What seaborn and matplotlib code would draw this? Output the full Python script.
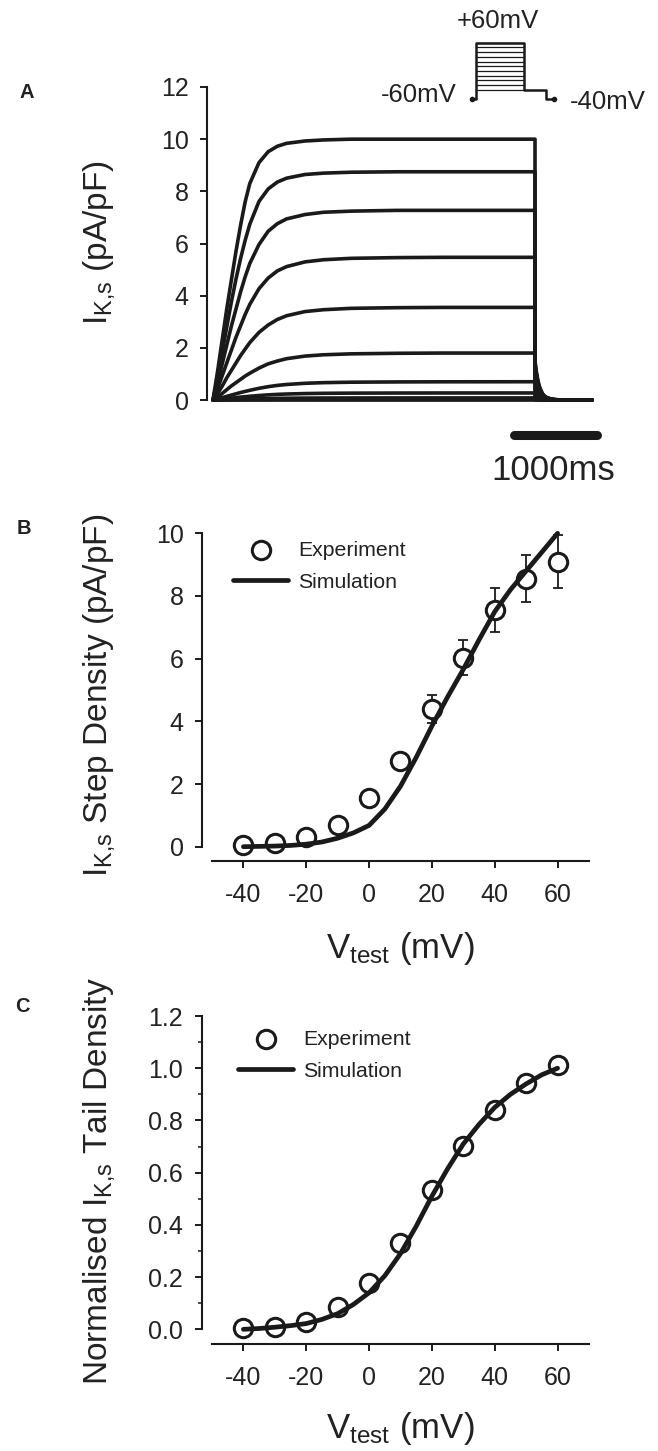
import numpy as np
import pandas as pd
import matplotlib
matplotlib.use("Agg")
import matplotlib.pyplot as plt
import seaborn as sns
from matplotlib.ticker import MultipleLocator, FormatStrFormatter

sns.set_theme(style="ticks")
plt.rcParams["font.family"] = ["Liberation Sans", "DejaVu Sans"]
plt.rcParams["mathtext.fontset"] = "custom"
plt.rcParams["mathtext.rm"] = "Liberation Sans"
plt.rcParams["mathtext.it"] = "Liberation Sans:italic"
plt.rcParams["axes.unicode_minus"] = False

# ---------------- data ----------------
test_voltage_mV = [-40, -30, -20, -10, 0, 10, 20, 30, 40, 50, 60]

# Panel A: steady-state step current levels (pA/pF) for each test voltage
step_level = [0.0, 0.02, 0.08, 0.27, 0.70, 1.80, 3.55, 5.47, 7.27, 8.75, 10.0]
# time samples of the activation phase (ms) and fraction of steady level reached
rise_time_ms = [0, 50, 100, 150, 200, 250, 300, 350, 400, 500, 600, 700, 800,
                1000, 1200, 1500, 2000, 2500, 3500]
rise_slow = [0, .06, .13, .20, .27, .34, .41, .47, .53, .64, .73, .80, .85,
             .915, .95, .975, .99, .997, 1]
rise_fraction = {
    -40: rise_slow, -30: rise_slow, -20: rise_slow, -10: rise_slow, 0: rise_slow,
    10: [0, .065, .14, .22, .30, .37, .44, .51, .57, .68, .77, .83, .88,
         .935, .963, .983, .995, 1, 1],
    20: [0, .07, .15, .24, .32, .40, .48, .55, .62, .73, .81, .87, .91,
         .955, .975, .99, .997, 1, 1],
    30: [0, .08, .17, .26, .35, .44, .52, .60, .67, .78, .855, .905, .935,
         .968, .983, .993, .998, 1, 1],
    40: [0, .09, .19, .29, .39, .48, .57, .65, .72, .82, .89, .93, .955,
         .978, .99, .996, 1, 1, 1],
    50: [0, .10, .21, .32, .43, .53, .62, .70, .77, .87, .925, .955, .972,
         .988, .994, .998, 1, 1, 1],
    60: [0, .11, .23, .35, .46, .57, .67, .76, .83, .91, .952, .973, .984,
         .993, .997, 1, 1, 1, 1],
}
step_end_ms = 3500
record_end_ms = 4120
tail_time_ms = [0, 15, 30, 45, 60, 80, 100, 130, 170, 220, 300]
tail_fraction = [1, .72, .52, .37, .27, .17, .11, .06, .03, .01, 0]
tail_peak = [0.0, 0.01, 0.03, 0.09, 0.2, 0.43, 0.77, 1.06, 1.27, 1.41, 1.5]

# Voltage protocol (inset)
holding_mV = -60
tail_mV = -40

# Panel B: step density
exp_step_mean = [0.05, 0.13, 0.32, 0.69, 1.54, 2.74, 4.40, 6.03, 7.55, 8.55, 9.09]
exp_step_err = [0.02, 0.03, 0.05, 0.08, 0.12, 0.18, 0.45, 0.55, 0.70, 0.75, 0.84]
sim_voltage_mV = [-40, -35, -30, -25, -20, -15, -10, -5, 0, 5, 10, 15, 20,
                  25, 30, 35, 40, 45, 50, 55, 60]
sim_step = [0.0, 0.01, 0.02, 0.04, 0.08, 0.15, 0.27, 0.44, 0.68, 1.2, 1.93,
            2.85, 3.85, 4.78, 5.66, 6.6, 7.5, 8.2, 8.8, 9.4, 10.0]

# Panel C: normalised tail density
exp_tail = [0.004, 0.01, 0.029, 0.087, 0.176, 0.33, 0.534, 0.703, 0.84, 0.942, 1.012]
sim_tail = [0.0, 0.003, 0.008, 0.014, 0.022, 0.038, 0.06, 0.095, 0.14, 0.205,
            0.29, 0.395, 0.51, 0.615, 0.71, 0.785, 0.85, 0.9, 0.94, 0.975, 1.0]

# ---------------- figure ----------------
W, H = 658, 1451
fig = plt.figure(figsize=(W / 100, H / 100), dpi=100)
INK = "#1a1a1a"
TXT = "#222222"


def rect(x0, y0, x1, y1):
    return [x0 / W, 1 - y1 / H, (x1 - x0) / W, (y1 - y0) / H]


def fx(x):
    return x / W


def fy(y):
    return 1 - y / H


def style_ax(ax):
    ax.tick_params(axis="both", direction="out", length=4.8, width=1.4,
                   color=INK, labelsize=18, labelcolor=TXT)
    ax.tick_params(axis="y", pad=8.5)
    ax.tick_params(axis="x", pad=11)
    for s in ["left", "bottom"]:
        ax.spines[s].set_linewidth(1.5)
        ax.spines[s].set_color(INK)
    for s in ["top", "right"]:
        ax.spines[s].set_visible(False)
    ax.set_xlabel("")
    ax.set_ylabel("")


SUB_KS = r"$_{\mathrm{K{,}s}}$"

# ---- Panel A ----
rows = []
for i, v in enumerate(test_voltage_mV):
    for t, f in zip(rise_time_ms, rise_fraction[v]):
        rows.append((v, t, step_level[i] * f))
    for t, f in zip(tail_time_ms, tail_fraction):
        rows.append((v, step_end_ms + t, tail_peak[i] * f))
    rows.append((v, record_end_ms, 0.0))
traces = pd.DataFrame(rows, columns=["V", "t", "I"])

axA = fig.add_axes(rect(207, 87, 610, 400))
sns.lineplot(data=traces, x="t", y="I", units="V", estimator=None, sort=False,
             color=INK, lw=2.6, ax=axA, legend=False, clip_on=False)
axA.set_xlim(-65, 4315)
axA.set_ylim(0, 12)
axA.set_yticks(range(0, 13, 2))
axA.set_xticks([])
style_ax(axA)
axA.spines["bottom"].set_visible(False)
# scale bar (1000 ms including its rounded ends)
axA.plot([3270, 4170], [-1.33, -1.33], color=INK, lw=6.5,
         solid_capstyle="round", clip_on=False)
fig.text(fx(553), fy(471), "1000ms", fontsize=25, color=TXT,
         ha="center", va="center")

# inset protocol
axI = fig.add_axes(rect(472, 42.7, 553.6, 99.3))
axI.set_xlim(0, 17)
axI.set_ylim(-60, 60)
axI.axis("off")
for v in test_voltage_mV:
    axI.plot([0.8, 10.8], [v, v], color=INK, lw=0.9, clip_on=False)
axI.plot([0, 0.8, 0.8, 10.8, 10.8, 15.4, 15.4, 17],
         [holding_mV, holding_mV, 60, 60, tail_mV, tail_mV, holding_mV, holding_mV],
         color=INK, lw=1.8, clip_on=False)
axI.plot([0, 17], [holding_mV, holding_mV], "o", color=INK, ms=3, clip_on=False)
fig.text(fx(498), fy(21), "+60mV", fontsize=18.5, color=TXT, ha="center", va="center")
fig.text(fx(457), fy(95), "-60mV", fontsize=18.5, color=TXT, ha="right", va="center")
fig.text(fx(570), fy(102), "-40mV", fontsize=18.5, color=TXT, ha="left", va="center")

fig.text(fx(99), fy(325), "I" + SUB_KS + " (pA/pF)", fontsize=24,
         color=TXT, rotation=90, ha="center", va="bottom")
fig.text(fx(26.5), fy(92), "A", fontsize=14.5, fontweight="bold", color=TXT,
         ha="center", va="center")


def iv_panel(ax, exp, err, sim, ylo, yhi):
    if err is not None:
        ax.errorbar(test_voltage_mV, exp, yerr=err, fmt="none", ecolor=INK,
                    elinewidth=1.3, capsize=3.6, capthick=1.3, zorder=2)
    sns.scatterplot(x=test_voltage_mV, y=exp, ax=ax, s=175, facecolor="white",
                    edgecolor=INK, linewidth=2.2, zorder=3, label="Experiment",
                    clip_on=False)
    sns.lineplot(x=sim_voltage_mV, y=sim, ax=ax, color=INK, lw=3.4, zorder=4,
                 label="Simulation", clip_on=False)
    ax.set_ylim(ylo, yhi)
    ax.set_xticks([-40, -20, 0, 20, 40, 60])
    style_ax(ax)
    ax.spines["left"].set_bounds(0, yhi)
    ax.spines["bottom"].set_bounds(-50, 70)


def legend(ax, x_left, y_top):
    h, l = ax.get_legend_handles_labels()
    ax.legend(h, l, loc="upper left", bbox_to_anchor=(fx(x_left), fy(y_top)),
              bbox_transform=fig.transFigure, frameon=False, fontsize=15.3,
              handlelength=2.6, handletextpad=0.45, labelspacing=0.6,
              borderpad=0, borderaxespad=0, labelcolor=TXT)


# ---- Panel B ----
axB = fig.add_axes(rect(202, 533.3, 589, 861.3))
axB.set_xlim(-53.18, 70)
iv_panel(axB, exp_step_mean, exp_step_err, sim_step, -0.466, 10)
axB.set_yticks(range(0, 11, 2))
legend(axB, 233, 541)
fig.text(fx(99), fy(877), "I" + SUB_KS + " Step Density (pA/pF)", fontsize=24,
         color=TXT, rotation=90, ha="center", va="bottom")
fig.text(fx(400), fy(958), r"V$_{\mathrm{test}}$ (mV)", fontsize=25, color=TXT,
         ha="center", va="baseline")
fig.text(fx(24), fy(529), "B", fontsize=14.5, fontweight="bold", color=TXT,
         ha="center", va="center")

# ---- Panel C ----
axC = fig.add_axes(rect(201.5, 1016, 589, 1344))
axC.set_xlim(-53.34, 70)
iv_panel(axC, exp_tail, None, sim_tail, -0.0563, 1.2)
axC.set_yticks(np.arange(0, 1.21, 0.2))
axC.yaxis.set_major_formatter(FormatStrFormatter("%.1f"))
axC.yaxis.set_minor_locator(MultipleLocator(0.1))
axC.tick_params(axis="y", which="minor", direction="out", length=3, width=1.1, color=INK)
legend(axC, 238, 1030)
fig.text(fx(99), fy(1385), "Normalised I" + SUB_KS + " Tail Density", fontsize=24,
         color=TXT, rotation=90, ha="center", va="bottom")
fig.text(fx(400), fy(1438), r"V$_{\mathrm{test}}$ (mV)", fontsize=25, color=TXT,
         ha="center", va="baseline")
fig.text(fx(22.5), fy(1006), "C", fontsize=14.5, fontweight="bold", color=TXT,
         ha="center", va="center")

fig.savefig("out.png", dpi=100)
